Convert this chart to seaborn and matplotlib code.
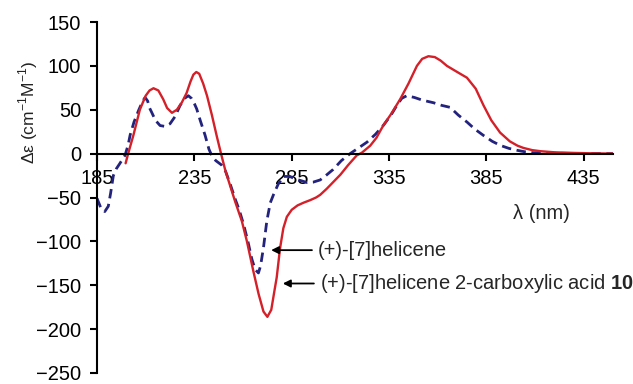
import matplotlib
matplotlib.use("Agg")
import matplotlib.pyplot as plt
import numpy as np
import pandas as pd
import seaborn as sns

sns.set_style("ticks")
plt.rcParams['font.family'] = ['Liberation Sans', 'DejaVu Sans']
plt.rcParams['mathtext.fontset'] = 'custom'
plt.rcParams['mathtext.rm'] = 'Liberation Sans'
plt.rcParams['mathtext.bf'] = 'Liberation Sans:bold'

# (+)-[7]helicene 2-carboxylic acid 10 (red, solid)
wl_acid = [199.7, 201, 203.7, 207, 210, 212, 214, 216.5, 219, 221, 223.5, 226, 228.5, 231,
           233, 234.5, 236, 237.5, 239.5, 241.5, 244, 246.5, 248.7, 251, 253.3, 256, 259.4,
           262, 265.3, 268, 270.5, 272.5, 274.5, 276, 277.3, 279, 280.7, 282.5, 285, 288,
           291, 294.5, 297.5, 299.6, 303, 306.5, 310, 314, 318.4, 321, 325.3, 328.5, 332,
           336, 340.7, 345, 349.3, 352, 355.2, 358.5, 361.5, 364.7, 370, 375, 379.5, 383.5,
           387.5, 392, 397, 401, 404, 408.5, 412.6, 420, 430, 440, 450]
de_acid = [-11, 0, 21, 50, 66, 72, 74.5, 72, 62, 52, 46.5, 50, 58, 69,
           82, 90, 93, 91, 80, 66, 44, 20, 0, -20, -36, -55, -77,
           -100, -134, -160, -180, -186, -178, -158, -141, -108, -85, -72, -64, -59,
           -56, -53, -50, -47, -40, -32, -24, -13, -2, 1, 9, 18, 32,
           45, 62, 80, 100, 108, 111, 110, 106, 100, 93, 86.5, 74, 55,
           38, 24, 14, 9, 6.5, 4, 2.8, 1.5, 0.8, 0.3, 0]

# (+)-[7]helicene (blue, dashed)
wl_hel = [185, 187, 189, 190.8, 192, 193.4, 195, 196.8, 198.5, 199.4, 201, 202, 204, 206.5,
          208.5, 209.7, 211, 212, 213.1, 215, 217.4, 220, 222.5, 225, 227.7, 230, 231.9,
          233.5, 235, 236.2, 238, 240.5, 242.5, 243.9, 246, 249, 251, 253.3, 256, 258,
          260.2, 262.5, 264.5, 266.2, 267.9, 269, 270.5, 272.2, 274, 275.6, 278, 280.7,
          284, 287, 290, 293, 296, 299.6, 302, 306.3, 310.5, 315, 319, 323.6, 328, 332,
          336, 339, 341.5, 344.1, 348, 352, 357.8, 362, 366.4, 370.5, 375, 379, 383.5,
          388, 392.1, 396.5, 400.7, 405, 409.2, 420, 430, 450]
de_hel = [-51, -62, -66, -60, -45, -25, -17, -11, -5, -2, 10, 21, 36, 50,
          60, 64, 60, 52, 47, 38, 32, 31, 34, 42, 55, 63, 66,
          63, 57, 51, 38, 21, 5, -2, -8, -13, -20, -34, -52, -64,
          -80, -100, -120, -132, -136, -128, -107, -77, -56, -47, -35, -26,
          -26, -29, -31, -33, -32.5, -30, -26, -18, -8, 0, 6, 13, 22, 32,
          44, 55, 63, 66, 64, 61, 58, 55, 52.7, 44, 36, 28, 20.7,
          14, 9.4, 6, 3.8, 2, 1, 0.5, 0.2, 0]

x_ticks = [185, 235, 285, 335, 385, 435]
y_ticks = [-250, -200, -150, -100, -50, 0, 50, 100, 150]

acid = pd.DataFrame({"wl": wl_acid, "de": de_acid})
hel = pd.DataFrame({"wl": wl_hel, "de": de_hel})

fig = plt.figure(figsize=(6.33, 3.84), dpi=100)
ax = fig.add_axes([97 / 633, 11 / 384, 516 / 633, 351 / 384])

sns.lineplot(data=hel, x="wl", y="de", ax=ax, color="#23237e", linewidth=2.0,
             linestyle=(0, (3.4, 2.0)), sort=False)
sns.lineplot(data=acid, x="wl", y="de", ax=ax, color="#d42028", linewidth=1.7, sort=False)

ax.set_xlim(185, 450)
ax.set_ylim(-250, 150)
ax.set_xticks(x_ticks)
ax.set_yticks(y_ticks)
ax.spines['bottom'].set_position(('data', 0))
ax.spines['top'].set_visible(False)
ax.spines['right'].set_visible(False)
for s in ['left', 'bottom']:
    ax.spines[s].set_linewidth(1.5)
    ax.spines[s].set_color('black')
ax.tick_params(axis='both', direction='out', length=5, width=1.5, labelsize=14.5,
               colors='black')
ax.tick_params(axis='x', pad=6)
ax.tick_params(axis='y', pad=6.5)

ax.set_ylabel("Δε (cm$^{-1}$M$^{-1}$)", fontsize=12.5, color='#222222')
ax.yaxis.set_label_coords(-0.11, 0.742)
ax.set_xlabel("λ (nm)", fontsize=14.5)
ax.xaxis.set_label_coords(0.862, 0.455)
ax.xaxis.label.set_va('center')

arrow = dict(arrowstyle='-|>', color='black', lw=1.3, mutation_scale=11)
ax.annotate("(+)-[7]helicene", xy=(273, -110), xytext=(298.5, -110),
            fontsize=14.5, va='center', ha='left', arrowprops=arrow)
ax.annotate("(+)-[7]helicene 2-carboxylic acid $\\mathbf{10}$", xy=(279, -148),
            xytext=(299.5, -148), fontsize=14.5, va='center', ha='left', arrowprops=arrow)

fig.savefig("out.png", dpi=100)
